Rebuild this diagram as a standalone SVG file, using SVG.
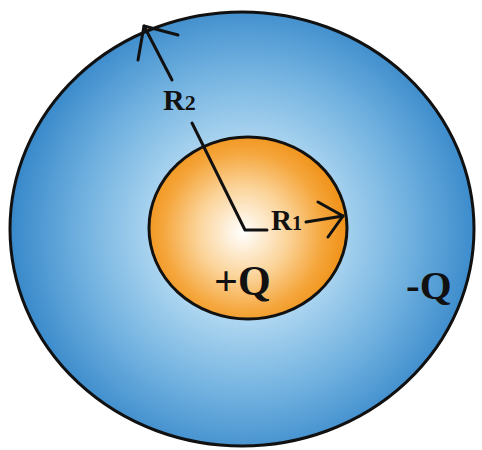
<svg xmlns="http://www.w3.org/2000/svg" width="482" height="450" viewBox="0 0 482 450">
<defs>
<radialGradient id="gOuter" gradientUnits="userSpaceOnUse" cx="245" cy="232" r="232">
<stop offset="0" stop-color="#ffffff"/>
<stop offset="0.35" stop-color="#b4daf2"/>
<stop offset="0.7" stop-color="#72b2e0"/>
<stop offset="1" stop-color="#3a8acb"/>
</radialGradient>
<radialGradient id="gInner" gradientUnits="userSpaceOnUse" cx="243" cy="232" r="100">
<stop offset="0" stop-color="#ffffff"/>
<stop offset="0.45" stop-color="#fbd49a"/>
<stop offset="0.8" stop-color="#f5a63c"/>
<stop offset="1" stop-color="#f0941c"/>
</radialGradient>
<style>
.line{fill:none;stroke:#111;stroke-width:3;stroke-linecap:round;stroke-linejoin:round}
.lbl{font-family:"Liberation Serif","Times New Roman",serif;font-weight:bold;fill:#111}
</style>
</defs>
<rect width="482" height="450" fill="#ffffff"/>
<g id="outer-sphere">
<ellipse cx="242" cy="229" rx="232" ry="217" fill="url(#gOuter)" stroke="#111" stroke-width="3"/>
<text class="lbl" x="406" y="299" font-size="41">-Q</text>
</g>
<g id="inner-sphere">
<ellipse cx="248" cy="228" rx="99" ry="91" fill="url(#gInner)" stroke="#111" stroke-width="3"/>
<text class="lbl" x="214" y="295" font-size="42">+Q</text>
</g>
<g id="connectors">
<polyline class="line" points="267,230 245,230 192,123"/>
<line class="line" x1="172" y1="80" x2="144" y2="26"/>
<polyline class="line" points="178,35 144,26 138,60"/>
<line class="line" x1="306" y1="222" x2="343" y2="216"/>
<polyline class="line" points="318,202 343,216 328,237"/>
</g>
<g id="labels">
<text class="lbl" x="163" y="110" font-size="30">R<tspan font-size="22">2</tspan></text>
<text class="lbl" x="271" y="230" font-size="29">R<tspan font-size="20">1</tspan></text>
</g>
</svg>
